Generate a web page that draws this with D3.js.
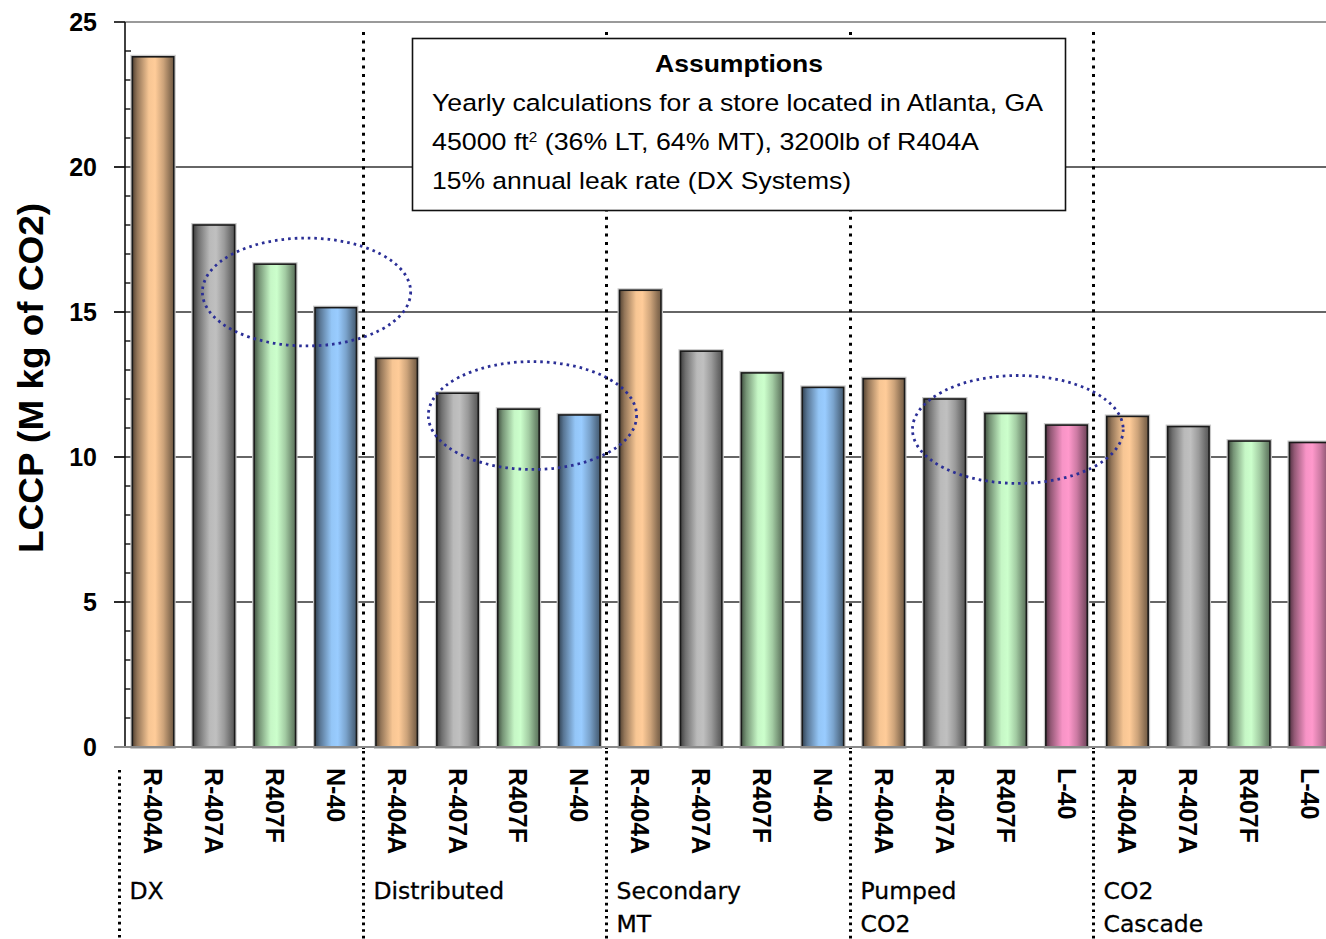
<!DOCTYPE html>
<html>
<head>
<meta charset="utf-8">
<script src="https://cdn.jsdelivr.net/npm/d3@7/dist/d3.min.js"></script>
<style>
  html, body { margin: 0; padding: 0; background: #fff; }
  svg { display: block; }
</style>
</head>
<body>
<svg id="chart" width="1326" height="939"></svg>
<script>
// System groups (label lines) and the refrigerants compared in each
const groupLabels = [["DX"], ["Distributed"], ["Secondary", "MT"], ["Pumped", "CO2"], ["CO2", "Cascade"]];
const refrigerants = [
  ["R-404A", "R-407A", "R407F", "N-40"],
  ["R-404A", "R-407A", "R407F", "N-40"],
  ["R-404A", "R-407A", "R407F", "N-40"],
  ["R-404A", "R-407A", "R407F", "L-40"],
  ["R-404A", "R-407A", "R407F", "L-40"]
];
// Life-cycle climate performance, million kg CO2
const lccp = [
  [23.8, 18.0, 16.65, 15.15],
  [13.4, 12.2, 11.65, 11.45],
  [15.75, 13.65, 12.9, 12.4],
  [12.7, 12.0, 11.5, 11.1],
  [11.4, 11.05, 10.55, 10.5]
];
const yTicks = [0, 5, 10, 15, 20, 25];
const yTitle = "LCCP (M kg of CO2)";

// Assumptions box text
const noteTitle = "Assumptions";
const noteLines = [
  [{ t: "Yearly calculations for a store located in Atlanta, GA" }],
  [{ t: "45000 ft" }, { t: "2", sup: true }, { t: " (36% LT, 64% MT), 3200lb of R404A" }],
  [{ t: "15% annual leak rate (DX Systems)" }]
];

// Highlight ellipses: centre as a fractional bar index and a value, radii in bar steps / value units
const highlights = [
  { bar: 2.52, value: 15.69, rSteps: 1.71, rValue: 1.86 },
  { bar: 6.23, value: 11.43, rSteps: 1.71, rValue: 1.86 },
  { bar: 14.2, value: 10.95, rSteps: 1.73, rValue: 1.86 }
];

// Fill colour for each refrigerant
const fillColor = {
  "R-404A": "#FFCC99",
  "R-407A": "#C0C0C0",
  "R407F": "#CCFFCC",
  "N-40": "#99CCFF",
  "L-40": "#FF99CC"
};

// Flatten into one list of bars
const bars = [];
lccp.forEach((vals, g) => vals.forEach((v, i) => {
  bars.push({ key: g + "-" + i, group: g, name: refrigerants[g][i], value: v });
}));

const svg = d3.select("#chart");
const W = 1326, H = 939;
const plotTop = 22, plotBottom = 747, axisX = 125, gridLeft = 114;

const x = d3.scaleBand()
  .domain(bars.map(d => d.key))
  .range([122.6, 1340.6])
  .paddingInner(0.32)
  .paddingOuter(0.16);

const y = d3.scaleLinear().domain([0, 25]).range([plotBottom, plotTop]);

// Bar gradients: dark edges, light centre
const defs = svg.append("defs");
Object.entries(fillColor).forEach(([name, c]) => {
  const id = "grad-" + name.replace(/[^A-Za-z0-9]/g, "");
  const dark = t => d3.interpolateRgb("#000", c)(t);
  const g = defs.append("linearGradient").attr("id", id)
    .attr("x1", "0%").attr("x2", "100%").attr("y1", "0%").attr("y2", "0%");
  [[0, 0.33], [0.12, 0.58], [0.4, 0.97], [0.55, 1], [0.75, 0.8], [0.92, 0.55], [1, 0.45]]
    .forEach(([o, t]) => g.append("stop").attr("offset", o).attr("stop-color", dark(t)));
});
const gradId = name => "url(#grad-" + name.replace(/[^A-Za-z0-9]/g, "") + ")";

// Horizontal gridlines
svg.append("g").selectAll("line")
  .data(yTicks.filter(t => t > 0))
  .join("line")
  .attr("x1", gridLeft).attr("x2", W)
  .attr("y1", d => y(d)).attr("y2", d => y(d))
  .attr("stroke", d => d === 25 ? "#9a9a9a" : "#333")
  .attr("stroke-width", d => d === 25 ? 2 : 1.6);

// Y axis line, outer major ticks and inner minor ticks
svg.append("line")
  .attr("x1", axisX).attr("x2", axisX)
  .attr("y1", y(25)).attr("y2", y(0))
  .attr("stroke", "#111").attr("stroke-width", 1.6);
svg.append("g").selectAll("line")
  .data(d3.range(0, 26))
  .join("line")
  .attr("x1", d => d % 5 === 0 ? gridLeft : axisX)
  .attr("x2", d => d % 5 === 0 ? axisX : axisX + 6)
  .attr("y1", d => y(d)).attr("y2", d => y(d))
  .attr("stroke", "#111").attr("stroke-width", 1.4);

// Y tick labels
svg.append("g").selectAll("text")
  .data(yTicks)
  .join("text")
  .attr("x", 97).attr("y", d => y(d) + 9)
  .attr("text-anchor", "end")
  .attr("font-family", "Liberation Sans, Arial, sans-serif")
  .attr("font-weight", "bold")
  .attr("font-size", 25)
  .attr("fill", "#000")
  .text(d => d);

// Y axis title
svg.append("text")
  .attr("transform", `translate(43, ${(203 + 553) / 2}) rotate(-90)`)
  .attr("text-anchor", "middle")
  .attr("font-family", "Liberation Sans, Arial, sans-serif")
  .attr("font-weight", "bold")
  .attr("font-size", 35)
  .attr("textLength", 350)
  .attr("lengthAdjust", "spacingAndGlyphs")
  .text(yTitle);

// Group separators: dotted vertical lines, pixel-aligned
const sepX = g => Math.round(x(g + "-0") - x.step() * 0.22) + 0.5;
svg.append("g").selectAll("line")
  .data(d3.range(1, groupLabels.length))
  .join("line")
  .attr("x1", sepX).attr("x2", sepX)
  .attr("y1", 32).attr("y2", plotBottom + 2)
  .attr("stroke", "#000").attr("stroke-width", 3)
  .attr("stroke-dasharray", "3 5.4");
svg.append("g").selectAll("line")
  .data(d3.range(0, groupLabels.length))
  .join("line")
  .attr("x1", sepX).attr("x2", sepX)
  .attr("y1", d => d === 0 ? 770 : plotBottom + 4).attr("y2", H)
  .attr("stroke", "#000").attr("stroke-width", 3)
  .attr("stroke-dasharray", "2.6 4");

// Bars
const barG = svg.append("g");
barG.selectAll("rect.halo")
  .data(bars, d => d.key)
  .join("rect")
  .attr("class", "halo")
  .attr("x", d => x(d.key)).attr("width", x.bandwidth())
  .attr("y", d => y(d.value)).attr("height", d => y(0) - y(d.value))
  .attr("fill", "none").attr("stroke", "#c8c8c8").attr("stroke-width", 4);
barG.selectAll("rect.bar")
  .data(bars, d => d.key)
  .join("rect")
  .attr("class", "bar")
  .attr("x", d => x(d.key)).attr("width", x.bandwidth())
  .attr("y", d => y(d.value)).attr("height", d => y(0) - y(d.value))
  .attr("fill", d => gradId(d.name))
  .attr("stroke", "#1a1a1a").attr("stroke-width", 1.6);

// X axis baseline
svg.append("line")
  .attr("x1", gridLeft).attr("x2", W)
  .attr("y1", y(0)).attr("y2", y(0))
  .attr("stroke", "#8a8a8a").attr("stroke-width", 2);

// Refrigerant labels, rotated to read downward
svg.append("g").selectAll("text")
  .data(bars, d => d.key)
  .join("text")
  .attr("transform", d => `translate(${x(d.key) + x.bandwidth() / 2}, 768) rotate(90)`)
  .attr("dominant-baseline", "central")
  .attr("font-family", "Liberation Sans, Arial, sans-serif")
  .attr("font-weight", "bold")
  .attr("font-size", 25)
  .text(d => d.name);

// System group labels
const gl = svg.append("g").selectAll("text")
  .data(groupLabels)
  .join("text")
  .attr("x", (d, g) => sepX(g) + 10)
  .attr("y", 899)
  .attr("font-family", "DejaVu Sans, Verdana, sans-serif")
  .attr("font-size", 23.5)
  .attr("fill", "#000")
  .attr("stroke", "#000").attr("stroke-width", 0.3);
gl.each(function (lines, g) {
  d3.select(this).selectAll("tspan")
    .data(lines)
    .join("tspan")
    .attr("x", sepX(g) + 10)
    .attr("dy", (d, i) => i === 0 ? 0 : 33)
    .text(d => d);
});

// Highlight ellipses
svg.append("g").selectAll("ellipse")
  .data(highlights)
  .join("ellipse")
  .attr("cx", d => x(bars[0].key) + x.bandwidth() / 2 + d.bar * x.step())
  .attr("cy", d => y(d.value))
  .attr("rx", d => d.rSteps * x.step())
  .attr("ry", d => y(0) - y(d.rValue))
  .attr("fill", "none")
  .attr("stroke", "#2b2f96")
  .attr("stroke-width", 2.8)
  .attr("stroke-dasharray", "2.6 4");

// Assumptions box
const box = svg.append("g");
box.append("rect")
  .attr("x", 412.5).attr("y", 38.5).attr("width", 653).attr("height", 172)
  .attr("fill", "#fff").attr("stroke", "#111").attr("stroke-width", 1.6);
box.append("text")
  .attr("x", 739).attr("y", 72)
  .attr("text-anchor", "middle")
  .attr("font-family", "Liberation Sans, Arial, sans-serif")
  .attr("font-weight", "bold")
  .attr("font-size", 24)
  .attr("textLength", 168)
  .attr("lengthAdjust", "spacingAndGlyphs")
  .text(noteTitle);
const lineWidths = [611, 547, 419];
noteLines.forEach((parts, i) => {
  const t = box.append("text")
    .attr("x", 432).attr("y", 111 + i * 39)
    .attr("font-family", "Liberation Sans, Arial, sans-serif")
    .attr("font-size", 24.5)
    .attr("textLength", lineWidths[i])
    .attr("lengthAdjust", "spacingAndGlyphs");
  parts.forEach(p => {
    const ts = t.append("tspan").text(p.t);
    if (p.sup) ts.attr("font-size", 14).attr("baseline-shift", "super");
  });
});
</script>
</body>
</html>
